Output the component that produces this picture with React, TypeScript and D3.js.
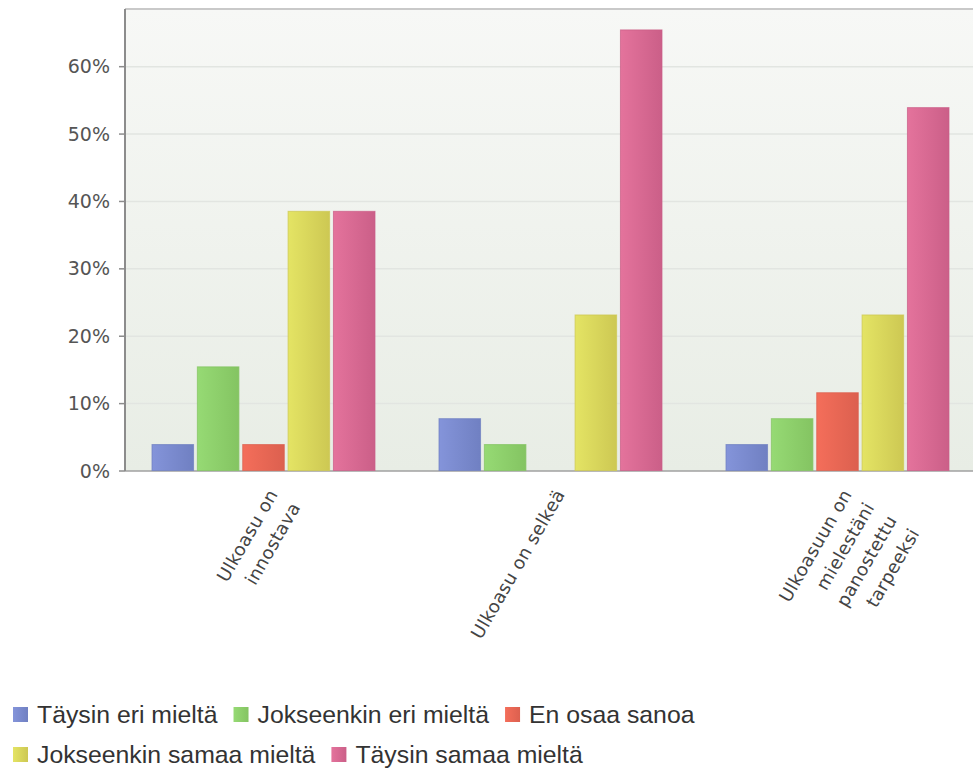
import React from "react";
import * as d3 from "d3";

// Survey answers (% of respondents) per statement
const categoryLines: string[][] = [
  ["Ulkoasu on", "innostava"],
  ["Ulkoasu on selkeä"],
  ["Ulkoasuun on", "mielestäni", "panostettu", "tarpeeksi"],
];
const seriesNames = [
  "Täysin eri mieltä",
  "Jokseenkin eri mieltä",
  "En osaa sanoa",
  "Jokseenkin samaa mieltä",
  "Täysin samaa mieltä",
];
const taysinEri = [3.85, 7.69, 3.85];
const jokseenkinEri = [15.38, 3.85, 7.69];
const enOsaaSanoa = [3.85, 0, 11.54];
const jokseenkinSamaa = [38.46, 23.08, 23.08];
const taysinSamaa = [38.46, 65.38, 53.85];
const yTicks = [0, 10, 20, 30, 40, 50, 60];

const seriesValues = [taysinEri, jokseenkinEri, enOsaaSanoa, jokseenkinSamaa, taysinSamaa];
const seriesColors: [string, string][] = [
  ["#8494da", "#7080c2"],
  ["#96da74", "#84c462"],
  ["#f46e5a", "#dc604f"],
  ["#e4e464", "#cdc853"],
  ["#e4739c", "#cb5f88"],
];

const W = 973;
const H = 769;
const plotLeft = 125;
const plotTop = 9;
const plotBottom = 471;

const measureCtx = (() => {
  const c = document.createElement("canvas");
  return c.getContext("2d")!;
})();
function textWidth(s: string, font: string) {
  measureCtx.font = font;
  return measureCtx.measureText(s).width;
}

export default function App() {
  const y = d3.scaleLinear().domain([0, 68.56]).range([plotBottom, plotTop]);
  const x0 = d3
    .scaleBand<number>()
    .domain(d3.range(categoryLines.length))
    .range([120, 981])
    .paddingInner(0.223)
    .paddingOuter(0.1115);
  const x1 = d3
    .scaleBand<number>()
    .domain(d3.range(seriesNames.length))
    .range([0, x0.bandwidth()])
    .paddingInner(0.084)
    .paddingOuter(0);

  // legend flow layout
  const legendFont = "24.8px 'Liberation Sans', Arial, sans-serif";
  const legendItems: { name: string; i: number; x: number; y: number }[] = [];
  {
    let cx = 13;
    let row = 0;
    seriesNames.forEach((name, i) => {
      const w = 24 + textWidth(name, legendFont);
      if (cx + w > W - 10 && cx > 13) {
        row += 1;
        cx = 13;
      }
      legendItems.push({ name, i, x: cx, y: 714.5 + row * 40 });
      cx += w + 16;
    });
  }

  const lineH = 26;

  return (
    <svg
      width={W}
      height={H}
      style={{ position: "absolute", left: 0, top: 0, background: "#fff" }}
    >
      <defs>
        <linearGradient id="plotBg" x1="0" y1="0" x2="0" y2="1">
          <stop offset="0" stopColor="#f7f8f6" />
          <stop offset="1" stopColor="#e8ede5" />
        </linearGradient>
        {seriesColors.map(([a, b], i) => (
          <linearGradient key={i} id={`bar${i}`} x1="0" y1="0" x2="1" y2="0">
            <stop offset="0" stopColor={a} />
            <stop offset="1" stopColor={b} />
          </linearGradient>
        ))}
        <clipPath id="plotClip">
          <rect x={plotLeft} y={0} width={W - plotLeft} height={plotBottom + 2} />
        </clipPath>
      </defs>

      <rect
        x={plotLeft}
        y={plotTop}
        width={W - plotLeft}
        height={plotBottom - plotTop}
        fill="url(#plotBg)"
      />
      <line x1={plotLeft} x2={W} y1={plotTop} y2={plotTop} stroke="#c9c9c9" strokeWidth={2} />

      {yTicks.slice(1).map((t) => (
        <line
          key={t}
          x1={plotLeft}
          x2={W}
          y1={y(t)}
          y2={y(t)}
          stroke="#e2e5e1"
          strokeWidth={1.5}
        />
      ))}

      <line x1={plotLeft} x2={W} y1={plotBottom} y2={plotBottom} stroke="#a0a0a0" strokeWidth={1.5} />

      <g clipPath="url(#plotClip)">
        {categoryLines.map((_, c) => (
          <g key={c} transform={`translate(${x0(c)},0)`}>
            {seriesValues.map((vals, s) => {
              const v = vals[c];
              const top = y(v);
              return (
                <rect
                  key={s}
                  x={x1(s)}
                  y={top - 0.5}
                  width={x1.bandwidth()}
                  height={Math.max(0, plotBottom - top)}
                  fill={`url(#bar${s})`}
                  stroke={seriesColors[s][1]}
                  strokeOpacity={0.75}
                  strokeWidth={1}
                />
              );
            })}
          </g>
        ))}
      </g>

      <line x1={plotLeft} x2={plotLeft} y1={plotTop} y2={plotBottom} stroke="#8c8c8c" strokeWidth={2} />

      {yTicks.map((t) => (
        <g key={t} transform={`translate(0,${y(t)})`}>
          <line x1={119} x2={plotLeft} stroke="#8c8c8c" strokeWidth={1.5} />
          <text
            x={110}
            dy="0.35em"
            textAnchor="end"
            fill="#555"
            style={{ font: "19px 'DejaVu Sans', sans-serif" }}
          >
            {t}%
          </text>
        </g>
      ))}

      {categoryLines.map((lines, c) => {
        const cx = (x0(c) ?? 0) + x0.bandwidth() / 2;
        return (
          <text
            key={c}
            transform={`translate(${cx + 15},${494}) rotate(-60)`}
            textAnchor="end"
            fill="#444"
            style={{ font: "18px 'DejaVu Sans', sans-serif", letterSpacing: "0.4px" }}
          >
            {lines.map((l, k) => (
              <tspan key={k} x={0} dy={k === 0 ? 0 : lineH}>
                {l}
              </tspan>
            ))}
          </text>
        );
      })}

      {legendItems.map((it) => (
        <g key={it.name} transform={`translate(${it.x},${it.y})`}>
          <rect x={0} y={-7.5} width={15} height={15} fill={`url(#bar${it.i})`} />
          <text
            x={24}
            dy="0.36em"
            fill="#333"
            style={{ font: legendFont }}
          >
            {it.name}
          </text>
        </g>
      ))}
    </svg>
  );
}
